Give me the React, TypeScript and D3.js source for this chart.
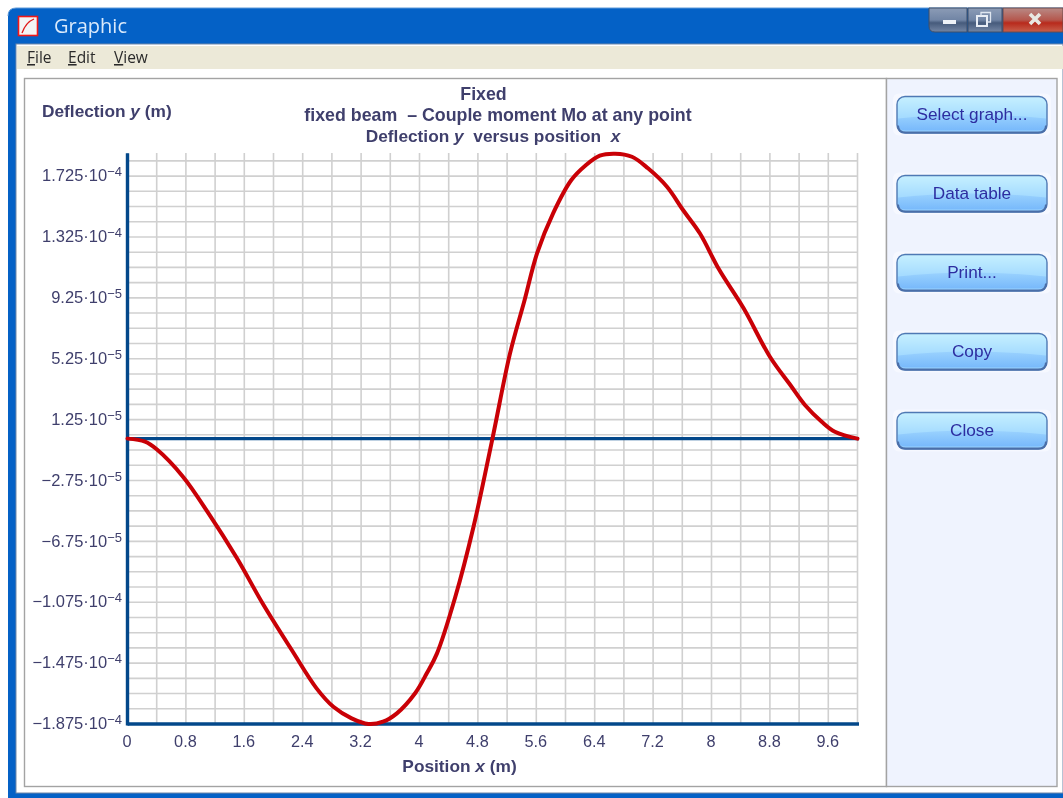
import React from "react";
import * as d3 from "d3";

const positions = [0,0.24,0.4,0.76,1.11,1.5,1.86,2.25,2.59,2.82,3.07,3.3,3.5,3.69,3.94,4.1,4.24,4.49,4.74,5,5.24,5.44,5.61,5.83,6.08,6.27,6.47,6.68,6.91,7.13,7.39,7.61,7.84,8.1,8.44,8.8,9.08,9.28,9.51,9.69,10];
const deflectionE4 = [0,-0.02,-0.07,-0.25,-0.491,-0.786,-1.09,-1.389,-1.641,-1.762,-1.838,-1.875,-1.86,-1.805,-1.673,-1.542,-1.411,-1.041,-0.579,0.002,0.56,0.911,1.217,1.48,1.699,1.793,1.859,1.872,1.852,1.776,1.655,1.502,1.349,1.114,0.856,0.538,0.352,0.221,0.111,0.045,0];

const xTickValues = [0,0.8,1.6,2.4,3.2,4,4.8,5.6,6.4,7.2,8,8.8,9.6];
const yTickValues = [1.725e-4,1.325e-4,9.25e-5,5.25e-5,1.25e-5,-2.75e-5,-6.75e-5,-1.075e-4,-1.475e-4,-1.875e-4];
const yTickMantissas = ["1.725","1.325","9.25","5.25","1.25","−2.75","−6.75","−1.075","−1.475","−1.875"];
const yTickExponents = ["−4","−4","−5","−5","−5","−5","−5","−4","−4","−4"];
const xGridCount = 26;
const yGridCount = 38;
const buttonLabels = ["Select graph...","Data table","Print...","Copy","Close"];
const buttonCentres = [114.5,193.5,272.5,351.5,430.5];
const menuItems = [{ k: "F", r: "ile", x: 27 },{ k: "E", r: "dit", x: 68 },{ k: "V", r: "iew", x: 114 }];

const FONT = "'Liberation Sans', Arial, sans-serif";
const INK = "#3f3f6c";
const AXIS = "#03488a";
const RED = "#c90006";
const TITLE_SIZE = 17.3;

const x = d3.scaleLinear().domain([0, 10]).range([127.5, 857.5]);
const y = d3.scaleLinear().domain([-1.875e-4, 1.875e-4]).range([724, 153.25]);
const line = d3.line<number>().x((d) => x(positions[d])).y((d) => y(deflectionE4[d] * 1e-4)).curve(d3.curveCatmullRom);

export default function App() {
  const idx = d3.range(positions.length);
  const xGrid = d3.range(xGridCount).map((i) => i * 0.4);
  const yGrid = d3.range(yGridCount).map((i) => -1.875e-4 + i * 1e-5);
  return (
    <svg width={1063} height={798} style={{ position: "absolute", left: 0, top: 0, filter: "blur(0.45px)" }} fontFamily={FONT}>
      <defs>
        <linearGradient id="btn" x1="0" y1="0" x2="0" y2="1">
          <stop offset="0" stopColor="#c6f0ff" />
          <stop offset="0.55" stopColor="#a6dcff" />
          <stop offset="1" stopColor="#98d2ff" />
        </linearGradient>
        <linearGradient id="btnLow" x1="0" y1="0" x2="0" y2="1">
          <stop offset="0" stopColor="#9ad2fe" />
          <stop offset="1" stopColor="#78b9fb" />
        </linearGradient>
        <linearGradient id="winBtn" x1="0" y1="0" x2="0" y2="1">
          <stop offset="0" stopColor="#8c9cb6" />
          <stop offset="0.5" stopColor="#7185a5" />
          <stop offset="0.62" stopColor="#465b7c" />
          <stop offset="1" stopColor="#7486a4" />
        </linearGradient>
        <linearGradient id="winClose" x1="0" y1="0" x2="0" y2="1">
          <stop offset="0" stopColor="#b98a86" />
          <stop offset="0.5" stopColor="#b5574d" />
          <stop offset="0.62" stopColor="#b82a1c" />
          <stop offset="1" stopColor="#c8604c" />
        </linearGradient>
      </defs>

      <rect width={1063} height={798} fill="#ffffff" />

      {/* window frame */}
      <path d="M8 798 V16 Q8 8 16 8 H1063 V798 Z" fill="#0461c6" />
      <path d="M8 16 Q8 8 16 8 H1063" fill="none" stroke="#5f9ad8" strokeWidth={1} />
      <rect x={16} y={44} width={1047} height={749} fill="#ffffff" stroke="#6f87a8" strokeWidth={1} />
      <rect x={8} y={794} width={1055} height={4} fill="#0461c6" />
      <rect x={17} y={46} width={1046} height={23} fill="#ece9d8" />

      {/* title bar */}
      <rect x={18.5} y={16.5} width={19} height={19} fill="#f4f4f4" stroke="#f01818" strokeWidth={1.6} />
      <path d="M22 33 Q26 22 34 19" fill="none" stroke="#e01818" strokeWidth={1.3} />
      <text x={54} y={33} fontFamily="'Open Sans', sans-serif" fontSize={20} fill="#d9e9fb">Graphic</text>

      {/* window buttons */}
      <path d="M929 8 H967 V32 H935 Q929 32 929 26 Z" fill="url(#winBtn)" stroke="#3f4f69" />
      <rect x={968} y={8} width={34} height={24} fill="url(#winBtn)" stroke="#3f4f69" />
      <rect x={1003} y={8} width={60} height={24} fill="url(#winClose)" stroke="#6a4a4a" />
      <rect x={943} y={20} width={13} height={4} fill="#eef2f8" />
      <rect x={977} y={16} width={10} height={10} fill="none" stroke="#e8edf5" strokeWidth={2} />
      <path d="M981 16 V12.5 H990.5 V22 H987" fill="none" stroke="#dfe6f0" strokeWidth={1.3} />
      <path d="M1030 14 L1040 24 M1040 14 L1030 24" stroke="#e8e8e2" strokeWidth={3.6} />

      {/* menu */}
      {menuItems.map((m) => (
        <text key={m.k} x={m.x} y={63} fontSize={15.5} fill="#2a2a2a" fontFamily="'Open Sans', sans-serif">
          <tspan textDecoration="underline">{m.k}</tspan>{m.r}
        </text>
      ))}

      {/* panels */}
      <rect x={24.5} y={78.5} width={862} height={708} fill="#ffffff" stroke="#a3a3a3" strokeWidth={1.4} />
      <rect x={886.5} y={78.5} width={170.5} height={708} fill="#eff3fe" stroke="#a3a3a3" strokeWidth={1.4} />

      {/* grid */}
      {xGrid.map((v) => (
        <line key={v} x1={x(v)} x2={x(v)} y1={153} y2={724} stroke="#d0d0d0" strokeWidth={1.6} />
      ))}
      {yGrid.map((v) => (
        <line key={v} x1={127} x2={858} y1={y(v)} y2={y(v)} stroke="#d0d0d0" strokeWidth={1.6} />
      ))}

      {/* axes */}
      <line x1={x(0)} x2={x(0)} y1={y(1.875e-4)} y2={725.5} stroke={AXIS} strokeWidth={3.4} />
      <line x1={x(0)} x2={859} y1={y(-1.875e-4)} y2={y(-1.875e-4)} stroke={AXIS} strokeWidth={3.4} />
      <line x1={x(0)} x2={859} y1={y(0)} y2={y(0)} stroke={AXIS} strokeWidth={3.4} />

      {/* curve */}
      <path d={line(idx) ?? ""} fill="none" stroke={RED} strokeWidth={4} strokeLinejoin="round" strokeLinecap="round" />

      {/* tick labels */}
      {xTickValues.map((v) => (
        <text key={v} x={x(v) - 0.5} y={747} fontSize={16.3} textAnchor="middle" fill={INK}>{v}</text>
      ))}
      {yTickValues.map((v, i) => (
        <text key={v} x={122} y={y(v) + 5.2} fontSize={16.5} textAnchor="end" fill={INK}>
          {yTickMantissas[i]}·10<tspan dy={-5} fontSize={13}>{yTickExponents[i]}</tspan>
        </text>
      ))}

      {/* titles */}
      <g fontSize={TITLE_SIZE} fontWeight="bold" fill={INK} textAnchor="middle">
        <text x={483.5} y={99.5} fontSize={17.8}>Fixed</text>
        <text x={498} y={120.5} fontSize={17.8} xmlSpace="preserve">fixed beam  – Couple moment Mo at any point</text>
        <text x={493} y={141.5} xmlSpace="preserve">Deflection <tspan fontStyle="italic">y</tspan>  versus position  <tspan fontStyle="italic">x</tspan></text>
        <text x={459.5} y={771.5}>Position <tspan fontStyle="italic">x</tspan> (m)</text>
      </g>
      <text x={42} y={116.5} fontSize={TITLE_SIZE} fontWeight="bold" fill={INK}>Deflection <tspan fontStyle="italic">y</tspan> (m)</text>

      {/* buttons */}
      {buttonLabels.map((b, i) => {
        const c = buttonCentres[i];
        return (
          <g key={b}>
            <rect x={893} y={c - 21} width={158} height={42} rx={6} fill="#f6f8ff" />
            <rect x={897} y={c - 18} width={150} height={36.5} rx={8} fill="url(#btn)" stroke="#4f79b4" strokeWidth={1.4} />
            <path d={`M898 ${c + 4} Q972 ${c - 4} 1046 ${c + 4} V${c + 10} Q1046 ${c + 16} 1038 ${c + 16} H906 Q898 ${c + 16} 898 ${c + 10} Z`} fill="url(#btnLow)" />
            <path d={`M898 ${c + 11} Q898 ${c + 18} 906 ${c + 18} H1038 Q1046 ${c + 18} 1046 ${c + 11}`} fill="none" stroke="#4a6ea8" strokeWidth={2} />
            <text x={972} y={c + 5} fontSize={17.2} textAnchor="middle" fill="#2d2da0">{b}</text>
          </g>
        );
      })}
    </svg>
  );
}
